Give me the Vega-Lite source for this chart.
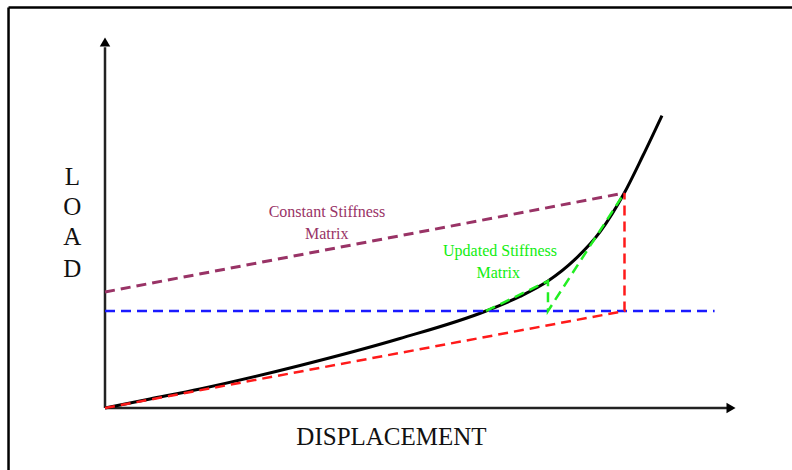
{
  "$schema": "https://vega.github.io/schema/vega-lite/v6.json",
  "width": 633,
  "height": 370,
  "autosize": {"type": "none"},
  "padding": {"left": 105, "top": 38, "right": 54, "bottom": 62},
  "background": "white",
  "config": {"view": {"stroke": null}},
  "datasets": {
    "frame": [
      {"x": -15.24, "y": 108.24, "x2": 108.6, "y2": 108.24},
      {"x": -15.24, "y": 108.24, "x2": -15.24, "y2": -16.8}
    ],
    "axes": [
      {"x": 0, "y": 0, "x2": 98.5, "y2": 0},
      {"x": 0, "y": 0, "x2": 0, "y2": 97.5}
    ],
    "curve": [
      {"x": 0, "y": 0},
      {"x": 7.11, "y": 2.43},
      {"x": 15.01, "y": 5.14},
      {"x": 30.81, "y": 11.49},
      {"x": 46.6, "y": 18.78},
      {"x": 60.19, "y": 26.22},
      {"x": 65.56, "y": 30.16},
      {"x": 69.98, "y": 34.32},
      {"x": 74.25, "y": 40.16},
      {"x": 78.2, "y": 47.59},
      {"x": 81.99, "y": 57.97},
      {"x": 84.99, "y": 68.24},
      {"x": 87.99, "y": 79.05}
    ],
    "constant": [
      {"x": 0, "y": 31.35},
      {"x": 82.07, "y": 58.11}
    ],
    "level": [
      {"x": 0, "y": 26.22},
      {"x": 96.3, "y": 26.22}
    ],
    "red": [
      {"i": 1, "x": 0, "y": 0},
      {"i": 2, "x": 82.07, "y": 26.22},
      {"i": 3, "x": 82.07, "y": 58.11}
    ],
    "green": [
      {"i": 1, "x": 60.19, "y": 26.22},
      {"i": 2, "x": 69.98, "y": 34.32},
      {"i": 3, "x": 69.98, "y": 26.22},
      {"i": 4, "x": 82.0, "y": 58.0}
    ],
    "purpleText": [
      {"x": 35.07, "y": 51.7, "label": "Constant Stiffness"},
      {"x": 35.02, "y": 45.59, "label": "Matrix"}
    ],
    "greenText": [
      {"x": 62.4, "y": 41.08, "label": "Updated Stiffness"},
      {"x": 62.13, "y": 35.22, "label": "Matrix"}
    ],
    "load": [
      {"x": -5.17, "y": 60.27, "label": "L"},
      {"x": -5.17, "y": 52.16, "label": "O"},
      {"x": -5.17, "y": 44.05, "label": "A"},
      {"x": -5.17, "y": 35.41, "label": "D"}
    ],
    "xtitle": [
      {"x": 45.26, "y": -10.0, "label": "DISPLACEMENT"}
    ],
    "xarrow": [{"x": 98.9, "y": 0}],
    "yarrow": [{"x": 0, "y": 98.9}]
  },
  "encoding": {
    "x": {"field": "x", "type": "quantitative", "scale": {"domain": [0, 100], "nice": false, "zero": false}, "axis": null},
    "y": {"field": "y", "type": "quantitative", "scale": {"domain": [0, 100], "nice": false, "zero": false}, "axis": null}
  },
  "layer": [
    {
      "data": {"name": "frame"},
      "mark": {"type": "rule", "color": "black", "strokeWidth": 2.5, "clip": false},
      "encoding": {"x2": {"field": "x2"}, "y2": {"field": "y2"}}
    },
    {
      "data": {"name": "axes"},
      "mark": {"type": "rule", "color": "#222222", "strokeWidth": 2.5},
      "encoding": {"x2": {"field": "x2"}, "y2": {"field": "y2"}}
    },
    {
      "data": {"name": "xarrow"},
      "mark": {"type": "point", "shape": "triangle-right", "filled": true, "color": "black", "size": 110, "opacity": 1}
    },
    {
      "data": {"name": "yarrow"},
      "mark": {"type": "point", "shape": "triangle-up", "filled": true, "color": "black", "size": 110, "opacity": 1}
    },
    {
      "data": {"name": "curve"},
      "mark": {"type": "line", "color": "black", "strokeWidth": 3, "interpolate": "monotone"}
    },
    {
      "data": {"name": "constant"},
      "mark": {"type": "line", "color": "#993366", "strokeWidth": 3, "strokeDash": [10, 6]}
    },
    {
      "data": {"name": "level"},
      "mark": {"type": "line", "color": "#1a1aff", "strokeWidth": 2.5, "strokeDash": [10, 6]}
    },
    {
      "data": {"name": "red"},
      "mark": {"type": "line", "color": "#ff1a1a", "strokeWidth": 2.5, "strokeDash": [10, 6]},
      "encoding": {"order": {"field": "i", "type": "quantitative"}}
    },
    {
      "data": {"name": "green"},
      "mark": {"type": "line", "color": "#22ee22", "strokeWidth": 2.5, "strokeDash": [10, 6]},
      "encoding": {"order": {"field": "i", "type": "quantitative"}}
    },
    {
      "data": {"name": "purpleText"},
      "mark": {"type": "text", "color": "#993366", "font": "Liberation Serif", "fontSize": 16, "align": "center", "baseline": "alphabetic"},
      "encoding": {"text": {"field": "label"}}
    },
    {
      "data": {"name": "greenText"},
      "mark": {"type": "text", "color": "#11ee11", "font": "Liberation Serif", "fontSize": 16, "align": "center", "baseline": "alphabetic"},
      "encoding": {"text": {"field": "label"}}
    },
    {
      "data": {"name": "load"},
      "mark": {"type": "text", "color": "#111111", "font": "Liberation Serif", "fontSize": 25, "align": "center", "baseline": "alphabetic"},
      "encoding": {"text": {"field": "label"}}
    },
    {
      "data": {"name": "xtitle"},
      "mark": {"type": "text", "color": "#111111", "font": "Liberation Serif", "fontSize": 25, "align": "center", "baseline": "alphabetic"},
      "encoding": {"text": {"field": "label"}}
    }
  ]
}
